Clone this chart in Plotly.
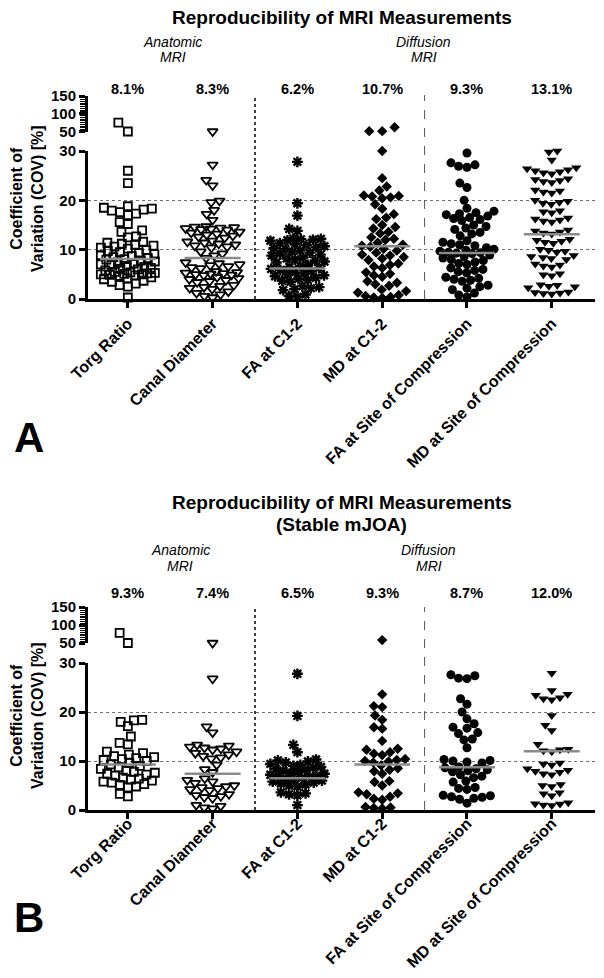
import math
import plotly.graph_objects as go

# ---------------- data ----------------
categories = ["Torg Ratio", "Canal Diameter", "FA at C1-2", "MD at C1-2",
              "FA at Site of Compression", "MD at Site of Compression"]
pct_A = [8.1, 8.3, 6.2, 10.7, 9.3, 13.1]
pct_B = [9.3, 7.4, 6.5, 9.3, 8.7, 12.0]

torg_A = [75, 50, 26.0, 23.5,
          18.8, 18.5, 18.3, 18.1, 17.9, 17.6, 17.3, 17.0,
          15.6, 15.2, 13.9, 13.6, 12.7, 12.5,
          11.6, 11.4, 11.2, 11.0, 10.8, 10.6, 10.4, 10.2,
          9.9, 9.7, 9.5, 9.3, 9.1, 8.9, 8.7,
          8.5, 8.3, 8.1, 8.0, 7.8, 7.6,
          7.4, 7.2, 7.0, 6.9, 6.7, 6.5, 6.3, 6.1, 6.0, 5.8,
          5.5, 5.4, 5.3, 5.2, 5.1, 5.0, 5.0, 4.9, 4.8, 4.7,
          4.4, 4.2, 4.0, 3.7, 3.5, 3.1, 2.8, 2.5, 0.3]
canal_A = [50, 27.2, 24.1, 23.0, 19.9, 19.6, 18.0, 17.2, 16.0,
           14.7, 14.6, 14.5, 14.4, 14.3, 14.2, 14.1, 14.0,
           13.6, 13.4, 13.2, 13.0, 12.8, 12.6, 12.4,
           11.8, 11.6, 11.4, 11.2, 11.0, 10.8, 10.6, 10.4,
           9.6, 9.2, 8.8, 8.3,
           7.4, 7.2, 7.0, 6.8, 6.6, 6.4, 6.2,
           5.6, 5.4, 5.3, 5.2, 5.1, 5.0, 4.9, 4.8,
           4.4, 4.2, 4.0, 3.8, 3.6, 3.4,
           2.8, 2.6, 2.4, 2.2, 2.0,
           1.5, 1.2, 0.9, 0.6, 0.3]
fa12_A = [27.8, 19.4, 16.9, 14.2, 13.8,
          12.3, 12.2, 12.1, 12.0, 11.9, 11.8,
          11.3, 11.1, 10.9, 10.7, 10.5, 10.3, 10.1,
          9.8, 9.6, 9.4, 9.2, 9.0, 8.8,
          8.4, 8.2, 8.0, 7.8, 7.6, 7.4,
          6.9, 6.7, 6.5, 6.3, 6.1, 5.9,
          5.6, 5.4, 5.2, 5.0, 4.8, 4.6,
          4.3, 4.1, 3.9, 3.7, 3.5,
          2.6, 2.4, 2.2, 2.0, 1.8,
          0.9, 0.6, 0.4]
md12_A = [62, 51, 51, 30.0,
          24.5, 22.8, 22.0, 21.0, 20.8, 20.6, 20.4, 20.9,
          19.2, 18.3, 17.2, 16.5, 16.2, 15.0, 14.6, 14.3,
          13.6, 13.3, 12.5, 12.2, 12.0,
          11.4, 11.0, 10.8, 10.6, 10.2,
          9.8, 9.4, 9.0, 8.8, 8.5, 8.2, 7.9,
          7.2, 6.9, 6.6, 6.3,
          5.4, 5.1, 4.8, 4.5,
          3.6, 3.3, 3.0, 2.7,
          1.9, 1.6, 1.3,
          0.8, 0.6, 0.4, 0.3, 0.2]
fasite_A = [29.6, 27.6, 27.2, 26.9, 26.7,
            23.5, 22.6, 20.0,
            18.4, 17.8, 17.5, 17.3, 17.1,
            16.8, 16.5, 16.3, 16.1, 15.9,
            15.0, 14.7, 14.4, 14.1,
            13.5, 13.2, 12.8,
            11.8, 11.5, 11.2, 11.0, 10.8,
            10.4, 10.1, 9.9, 9.7, 9.5, 9.4, 9.3, 9.2,
            8.9, 8.6, 8.3, 8.0, 7.8, 7.5, 7.2, 7.0,
            6.3, 6.0, 5.8, 5.5, 5.3,
            4.4, 4.2, 4.0, 3.8, 3.6,
            2.8, 2.5, 2.2, 1.9,
            1.2, 0.8, 0.4]
mdsite_A = [30.0, 29.8, 28.2,
            26.6, 26.4, 26.2, 26.0, 25.8, 25.6, 25.4,
            24.4, 24.2, 24.0, 23.8, 23.6,
            22.1, 21.9, 21.7, 21.5,
            20.0, 19.8, 19.6, 19.4, 19.2,
            17.9, 17.7, 17.5,
            16.4, 16.2, 16.0, 15.8, 15.6,
            14.0, 13.8, 13.6, 13.4, 13.2,
            12.1, 11.9, 11.7, 11.5, 11.3,
            10.1, 9.9, 9.7, 9.5,
            8.8, 8.6, 8.4, 8.2, 8.0,
            7.1, 6.9, 6.7, 6.5,
            5.1, 4.9, 4.7,
            2.9, 2.8, 2.6, 2.5, 2.3,
            1.4, 1.3, 1.2, 1.1, 1.0]

torg_B = [78, 50, 18.4, 18.3, 18.0, 17.1, 15.0, 13.7, 13.4,
          11.9, 11.6, 11.3, 11.0, 10.8, 10.6, 10.4, 10.2, 10.0,
          9.6, 9.3, 9.0, 8.7, 8.4,
          8.0, 7.8, 7.6, 7.4, 7.2, 7.0,
          6.6, 6.4, 6.2, 6.0, 5.8, 5.6,
          5.3, 5.1, 4.8, 4.6,
          3.3, 2.8]
canal_B = [50, 26.8, 17.0, 15.8,
           13.3, 13.1, 12.9, 12.7, 12.5, 12.3,
           11.9, 11.6, 11.3, 11.0, 10.7, 10.5,
           9.2, 8.3, 7.7,
           6.4, 6.1, 5.8, 5.5,
           5.0, 4.8, 4.6, 4.4, 4.2, 4.0,
           3.2, 3.0, 2.8, 2.6, 2.4,
           1.0, 0.8, 0.5, 0.3]
fa12_B = [27.8, 19.2, 13.3, 11.8,
          10.3, 10.1, 9.9, 9.7,
          9.4, 9.2, 9.0, 8.8, 8.6, 8.4, 8.2,
          8.0, 7.8, 7.6, 7.4, 7.2, 7.0, 6.9, 6.8,
          6.6, 6.4, 6.2, 6.0, 5.8, 5.6, 5.4,
          5.2, 5.0, 4.8,
          3.6, 3.4, 3.2, 3.0,
          1.0]
md12_B = [58, 23.6, 21.2, 21.0, 19.3, 18.4, 16.9, 16.6, 14.1, 12.5, 12.3,
          11.8, 11.5, 11.2, 10.4, 10.2, 10.0, 9.9, 9.7,
          9.1, 8.5, 8.2, 7.9, 7.4,
          5.9, 5.7, 5.0, 3.6, 3.4, 3.2, 2.7, 2.3, 2.1,
          0.6, 0.5, 0.4, 0.3]
fasite_B = [27.6, 27.4, 26.9, 26.8, 22.7, 21.6, 20.0, 18.6, 17.6, 16.9, 16.7,
            15.8, 15.6, 14.5, 14.3, 12.7,
            10.3, 10.1, 10.0, 9.8, 9.6,
            8.8, 8.6, 8.4, 8.2, 8.0, 7.8,
            7.2, 6.9, 6.6, 5.9, 5.7,
            4.6, 4.4, 4.2,
            3.0, 2.9, 2.7, 2.6, 2.4, 2.2, 1.4]
mdsite_B = [27.9, 24.4, 23.6, 23.4, 22.9, 22.7, 22.5,
            19.3, 17.3, 16.2, 13.4,
            12.4, 12.3, 12.1, 11.9,
            9.6, 9.4, 9.2,
            8.4, 8.1, 7.9, 7.7, 7.4, 7.2,
            5.2, 5.0, 4.8,
            3.5, 3.3, 2.9,
            1.5, 1.3, 1.2, 1.0, 0.9]

series_A = [torg_A, canal_A, fa12_A, md12_A, fasite_A, mdsite_A]
series_B = [torg_B, canal_B, fa12_B, md12_B, fasite_B, mdsite_B]

# ---------------- styling / geometry ----------------
PAGE_W, PAGE_H = 604, 978
BODY = 8                      # default page margin around the plot div
W, H = PAGE_W - 2 * BODY, PAGE_H - 2 * BODY
FONT = "Liberation Sans, Arial, sans-serif"
X0PX, X1PX = 88, 595          # page pixel extent of the x axes
XRANGE = [-0.47, 5.51]
PX_PER_CAT = (X1PX - X0PX) / (XRANGE[1] - XRANGE[0])
SPLIT = 32                    # values above this go to the upper (50-150) segment

symbols = ["square-open", "triangle-down-open", "asterisk-open",
           "diamond", "circle", "triangle-down"]
sizes = [8, 9, 9, 8, 9, 9]


def fx(px):
    return (px - BODY) / W


def fy(py):
    return 1 - (py - BODY) / H


panels = [
    dict(series=series_A, pct=pct_A, base=299, top30=151, up50=131.5, up150=96,
         xa="x", ya_lo="y", ya_hi="y2",
         titles=["Reproducibility of MRI Measurements"], title_y=[18],
         grp_x=[0.53, 3.49], grp_y=[42, 57], pct_y=89, ytitle_y=199,
         letter="A", letter_y=437, vtop=95),
    dict(series=series_B, pct=pct_B, base=810, top30=663, up50=643, up150=607,
         xa="x2", ya_lo="y3", ya_hi="y4",
         titles=["Reproducibility of MRI Measurements", "(Stable mJOA)"], title_y=[502, 524],
         grp_x=[0.62, 3.55], grp_y=[550, 566], pct_y=593, ytitle_y=716,
         letter="B", letter_y=917, vtop=607),
]


def swarm(pys, d, maxw):
    """beeswarm in pixel space with a maximum half-width; returns x offsets in px"""
    order = sorted(range(len(pys)), key=lambda i: pys[i])
    placed = []
    offs = [0.0] * len(pys)
    for i in order:
        y = pys[i]
        near = [(xj, yj) for (xj, yj) in placed if abs(y - yj) < d]
        cands = [0.0]
        for (xj, yj) in near:
            dx = math.sqrt(d * d - (y - yj) ** 2)
            cands += [xj + dx, xj - dx]
        cands.sort(key=lambda c: (abs(c), c))
        chosen = None
        for c in cands:
            if abs(c) > maxw + 1e-9:
                continue
            if all((c - xj) ** 2 + (y - yj) ** 2 >= d * d - 1e-6 for (xj, yj) in near):
                chosen = c
                break
        if chosen is None:
            best, bestd = 0.0, -1
            k = -maxw
            while k <= maxw + 1e-9:
                md = min(math.hypot(k - xj, y - yj) for (xj, yj) in near)
                if md > bestd + 1e-9 or (abs(md - bestd) < 1e-9 and abs(k) < abs(best)):
                    best, bestd = k, md
                k += 0.5
            chosen = best
        offs[i] = chosen
        placed.append((chosen, y))
    return offs


fig = go.Figure()
shapes = []
annotations = []


def ann(x, y, text, size, xref="paper", **kw):
    d = dict(x=x, y=y, xref=xref, yref="paper", text=text, showarrow=False,
             xanchor="center", yanchor="middle",
             font=dict(size=size, color="black", family=FONT))
    d.update(kw)
    annotations.append(d)


for p in panels:
    lo_scale = (p["base"] - p["top30"]) / 30.0
    hi_scale = (p["up50"] - p["up150"]) / 100.0
    for ci, vals in enumerate(p["series"]):
        lo_y = [v for v in vals if v <= SPLIT]
        hi_y = [v for v in vals if v > SPLIT]
        lo_off = swarm([v * lo_scale for v in lo_y], 8.4, 27)
        hi_off = swarm([(v - 50) * hi_scale for v in hi_y], 13, 27)
        lo_x = [ci + o / PX_PER_CAT for o in lo_off]
        hi_x = [ci + o / PX_PER_CAT for o in hi_off]
        lw = 1.8 if "open" in symbols[ci] else 0
        if "asterisk" in symbols[ci]:
            lw = 2.4
        mk = dict(symbol=symbols[ci], size=sizes[ci], color="black",
                  line=dict(color="black", width=lw))
        fig.add_trace(go.Scatter(x=lo_x, y=lo_y, mode="markers", marker=mk,
                                 xaxis=p["xa"], yaxis=p["ya_lo"], cliponaxis=False,
                                 showlegend=False, hoverinfo="skip"))
        if hi_y:
            fig.add_trace(go.Scatter(x=hi_x, y=hi_y, mode="markers", marker=mk,
                                     xaxis=p["xa"], yaxis=p["ya_hi"], cliponaxis=False,
                                     showlegend=False, hoverinfo="skip"))
    for ci, val in enumerate(p["pct"]):
        fig.add_trace(go.Scatter(x=[ci - 0.33, ci + 0.33], y=[val, val], mode="lines",
                                 line=dict(color="#8a8a8a", width=2.5),
                                 xaxis=p["xa"], yaxis=p["ya_lo"],
                                 showlegend=False, hoverinfo="skip"))
        ann(ci, fy(p["pct_y"]), f"<b>{val:.1f}%</b>", 14.5, xref=p["xa"])
    shapes.append(dict(type="line", xref=p["xa"], yref="paper", x0=1.5, x1=1.5,
                       y0=fy(p["base"]), y1=fy(p["vtop"]),
                       line=dict(color="black", width=1.5, dash="dot")))
    shapes.append(dict(type="line", xref=p["xa"], yref="paper", x0=3.5, x1=3.5,
                       y0=fy(p["base"]), y1=fy(p["vtop"]),
                       line=dict(color="#555", width=1, dash="dash")))
    for t, ty in zip(p["titles"], p["title_y"]):
        ann(fx((X0PX + X1PX) / 2), fy(ty), f"<b>{t}</b>", 19)
    for gx, (l1, l2) in zip(p["grp_x"], [("Anatomic", "MRI"), ("Diffusion", "MRI")]):
        ann(gx, fy(p["grp_y"][0]), f"<i>{l1}</i>", 14, xref=p["xa"])
        ann(gx, fy(p["grp_y"][1]), f"<i>{l2}</i>", 14, xref=p["xa"])
    ann(fx(27), fy(p["ytitle_y"]), "<b>Coefficient of<br>Variation (COV) [%]</b>", 16,
        textangle=-90)
    ann(fx(29), fy(p["letter_y"]), f"<b>{p['letter']}</b>", 42)

xdom = [fx(X0PX), fx(X1PX)]
xaxis_common = dict(domain=xdom, range=XRANGE, showline=True, linewidth=3, linecolor="black",
                    ticks="outside", ticklen=6, tickwidth=2.5, tickcolor="black",
                    tickvals=list(range(len(categories))), ticktext=[f"<b>{c}</b>" for c in categories],
                    tickangle=-45, tickfont=dict(size=16, color="black", family=FONT),
                    showgrid=False, zeroline=False, automargin=False)
ylo_common = dict(range=[0, 30], showline=True, linewidth=3, linecolor="black",
                  ticks="outside", ticklen=6, tickwidth=2.5, tickcolor="black",
                  tickvals=[0, 10, 20, 30], ticktext=["<b>0</b>", "<b>10</b>", "<b>20</b>", "<b>30</b>"],
                  tickfont=dict(size=15, color="black", family=FONT),
                  showgrid=True, gridcolor="#6e6e6e", gridwidth=1, griddash="dot",
                  zeroline=False, automargin=False)
yhi_common = dict(range=[50, 150], showline=True, linewidth=3, linecolor="black",
                  ticks="outside", ticklen=6, tickwidth=2.5, tickcolor="black",
                  tickvals=[50, 100, 150], ticktext=["<b>50</b>", "<b>100</b>", "<b>150</b>"],
                  tickfont=dict(size=15, color="black", family=FONT),
                  minor=dict(dtick=5, ticks="outside", ticklen=5, tickwidth=1.2, tickcolor="black"),
                  showgrid=False, zeroline=False, automargin=False)

pA, pB = panels
fig.update_layout(
    width=W, height=H, margin=dict(l=0, r=0, t=0, b=0, pad=0, autoexpand=False),
    paper_bgcolor="white", plot_bgcolor="white",
    font=dict(family=FONT, color="black"),
    xaxis=dict(anchor="y", **xaxis_common),
    xaxis2=dict(anchor="y3", ticklabelstandoff=-11, **xaxis_common),
    yaxis=dict(anchor="x", domain=[fy(pA["base"]), fy(pA["top30"])], **ylo_common),
    yaxis2=dict(anchor="x", domain=[fy(pA["up50"]), fy(pA["up150"])], **yhi_common),
    yaxis3=dict(anchor="x2", domain=[fy(pB["base"]), fy(pB["top30"])], **ylo_common),
    yaxis4=dict(anchor="x2", domain=[fy(pB["up50"]), fy(pB["up150"])], **yhi_common),
    shapes=shapes, annotations=annotations,
)

fig.write_html("out.html")
